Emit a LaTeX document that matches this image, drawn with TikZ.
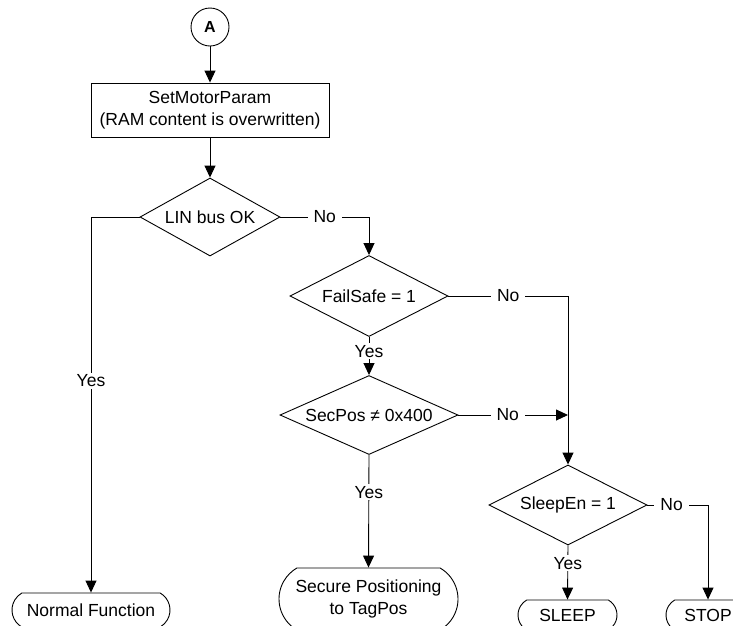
\documentclass[tikz,border=0pt]{standalone}
\usepackage{fontspec}
\setmainfont{Liberation Sans}
\usetikzlibrary{shapes.geometric,shapes.misc,arrows.meta}
\begin{document}
\begin{tikzpicture}[x=1pt,y=-1pt,
  every node/.style={font=\fontsize{17.5}{22}\selectfont},
  ln/.style={line width=0.9pt},
  arr/.style={ln,-{Triangle[length=12pt,width=11pt]}},
  conn/.style={draw,ln,circle,minimum size=38pt,inner sep=0pt,font=\fontsize{16}{18}\selectfont\bfseries},
  procbox/.style={draw,ln,rectangle,inner sep=0pt,align=center},
  dia/.style={draw,ln,diamond,inner sep=0pt},
  term/.style={draw,ln,rounded rectangle,rounded rectangle arc length=120,inner sep=0pt,align=center},
  lbl/.style={fill=white,inner xsep=6pt,inner ysep=2pt}]
\useasboundingbox (0,0) rectangle (733,625);
\clip (0,0) rectangle (733,625);
\node[conn] (A) at (210,27) {A};
\node[procbox,minimum width=238pt,minimum height=54pt] (set) at (210,110) {SetMotorParam\\(RAM content is overwritten)};
\node[dia,minimum width=140pt,minimum height=78pt,label={center:LIN bus OK}] (lin) at (210,217) {};
\node[dia,minimum width=158pt,minimum height=81pt,label={center:FailSafe = 1}] (fs) at (369,296) {};
\node[dia,minimum width=178pt,minimum height=79pt,label={center:SecPos ≠ 0x400}] (sec) at (369,415) {};
\node[dia,minimum width=158pt,minimum height=80pt,label={center:SleepEn = 1}] (sl) at (568,505) {};
\node[term,minimum width=158pt,minimum height=34pt] (norm) at (91,610) {Normal Function};
\node[term,minimum width=179pt,minimum height=62pt] (secpos) at (368.5,599) {Secure Positioning\\to TagPos};
\node[term,minimum width=99pt,minimum height=30pt] (sleep) at (567.5,615) {SLEEP};
\node[term,minimum width=84pt,minimum height=30pt] (stop) at (708,615) {STOP};
\draw[arr] (A) -- (set);
\draw[arr] (set) -- (lin);
\draw[arr] (lin.east) -| node[lbl,pos=0.25]{No} (fs.north);
\draw[arr] (lin.west) -| node[lbl,pos=0.718]{Yes} (norm.north);
\draw[arr] (fs.east) -| node[lbl,pos=0.25]{No} (sl.north);
\draw[arr] (fs.south) -- node[lbl,pos=0.375]{Yes} (sec.north);
\draw[arr] (sec.east) -- node[lbl,pos=0.45]{No} (sec.east -| sl.north);
\draw[arr] (sec.south) -- node[lbl,pos=0.33]{Yes} (secpos.north);
\draw[arr] (sl.south) -- node[lbl,pos=0.33]{Yes} (sleep.north);
\draw[arr] (sl.east) -| node[lbl,pos=0.2]{No} (stop.north);
\end{tikzpicture}
\end{document}
